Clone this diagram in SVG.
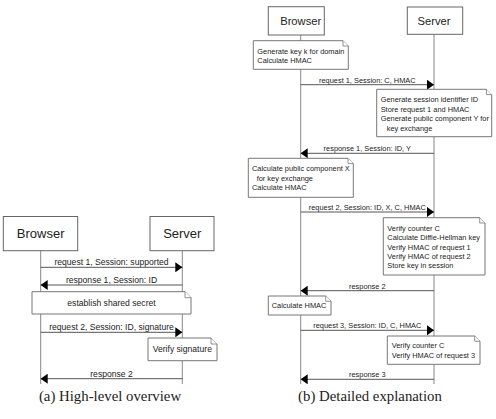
<svg xmlns="http://www.w3.org/2000/svg" width="496" height="419" viewBox="0 0 496 419">
<defs>
<style>
.box{fill:#fff;stroke:#666;stroke-width:1}
.note{fill:#fff;stroke:#777;stroke-width:1}
.fold{fill:#fff;stroke:#777;stroke-width:0.8}
.life{stroke:#888;stroke-width:1;fill:none}
.msg{stroke:#555;stroke-width:1;fill:none}
.t{font-family:"Liberation Sans",Arial,sans-serif;fill:#222}
.ml{font-size:8.6px;text-anchor:middle}
.mr{font-size:7.4px;text-anchor:middle}
.nl{font-size:8.6px}
.nr{font-size:7.4px}
.cap{font-family:"Liberation Serif","Times New Roman",serif;font-size:14.8px;fill:#222;text-anchor:middle}
</style>
<marker id="ah" viewBox="0 0 7 10" refX="7" refY="5" markerWidth="7" markerHeight="10" markerUnits="userSpaceOnUse" orient="auto">
<path d="M0,0 L7,5 L0,10 Z" fill="#000"/>
</marker>
</defs>
<rect width="496" height="419" fill="#fff"/>

<g id="connectors">
<!-- lifelines -->
<line class="life" x1="40.7" y1="250.7" x2="40.7" y2="384"/>
<line class="life" x1="182.3" y1="250.7" x2="182.3" y2="384"/>
<line class="life" x1="300.7" y1="35" x2="300.7" y2="384"/>
<line class="life" x1="434" y1="34.3" x2="434" y2="384"/>
<!-- left messages -->
<line class="msg" x1="40.7" y1="267.3" x2="182.3" y2="267.3" marker-end="url(#ah)"/>
<line class="msg" x1="182.3" y1="285" x2="40.7" y2="285" marker-end="url(#ah)"/>
<line class="msg" x1="40.7" y1="332.3" x2="182.3" y2="332.3" marker-end="url(#ah)"/>
<line class="msg" x1="182.3" y1="378.7" x2="40.7" y2="378.7" marker-end="url(#ah)"/>
<!-- right messages -->
<line class="msg" x1="300.7" y1="84.7" x2="434" y2="84.7" marker-end="url(#ah)"/>
<line class="msg" x1="434" y1="153.3" x2="300.7" y2="153.3" marker-end="url(#ah)"/>
<line class="msg" x1="300.7" y1="212" x2="434" y2="212" marker-end="url(#ah)"/>
<line class="msg" x1="434" y1="290.7" x2="300.7" y2="290.7" marker-end="url(#ah)"/>
<line class="msg" x1="300.7" y1="330.3" x2="434" y2="330.3" marker-end="url(#ah)"/>
<line class="msg" x1="434" y1="379.3" x2="300.7" y2="379.3" marker-end="url(#ah)"/>
<!-- labels -->
<text class="t ml" x="111.5" y="265.3">request 1, Session: supported</text>
<text class="t ml" x="111.5" y="283">response 1, Session: ID</text>
<text class="t ml" x="111.5" y="330.3">request 2, Session: ID, signature</text>
<text class="t ml" x="111.5" y="376.7">response 2</text>
<text class="t mr" x="367.3" y="82.7">request 1, Session: C, HMAC</text>
<text class="t mr" x="367.3" y="151.3">response 1, Session: ID, Y</text>
<text class="t mr" x="367.3" y="210">request 2, Session: ID, X, C, HMAC</text>
<text class="t mr" x="367.3" y="288.7">response 2</text>
<text class="t mr" x="367.3" y="328.3">request 3, Session: ID, C, HMAC</text>
<text class="t mr" x="367.3" y="377.3">response 3</text>
</g>

<g id="a-browser">
<rect class="box" x="3.3" y="216.5" width="74.4" height="34.2"/>
<text class="t" x="40.7" y="237.8" font-size="13" text-anchor="middle">Browser</text>
</g>
<g id="a-server">
<rect class="box" x="150" y="216.5" width="64" height="34.2"/>
<text class="t" x="182.3" y="237.8" font-size="13" text-anchor="middle">Server</text>
</g>
<g id="a-note-secret">
<path class="note" d="M32,291.7 H185 L191,297.7 V314 H32 Z"/>
<path class="fold" d="M185,291.7 V297.7 H191"/>
<text class="t nl" x="111.5" y="305.6" text-anchor="middle">establish shared secret</text>
</g>
<g id="a-note-verify">
<path class="note" d="M148,338 H211 L217,344 V360.7 H148 Z"/>
<path class="fold" d="M211,338 V344 H217"/>
<text class="t nl" x="152.7" y="352.3">Verify signature</text>
</g>
<text class="cap" x="110" y="401">(a) High-level overview</text>

<g id="b-browser">
<rect class="box" x="268.3" y="6.7" width="56" height="28.3"/>
<text class="t" x="300.7" y="24.8" font-size="11.2" text-anchor="middle">Browser</text>
</g>
<g id="b-server">
<rect class="box" x="407.3" y="7" width="55.4" height="27.3"/>
<text class="t" x="434" y="24.8" font-size="11.2" text-anchor="middle">Server</text>
</g>
<g id="b-note1">
<path class="note" d="M253.3,40.7 H343 L348.3,46 V69.3 H253.3 Z"/>
<path class="fold" d="M343,40.7 V46 H348.3"/>
<text class="t nr" x="257.3" y="53.6">Generate key k for domain</text>
<text class="t nr" x="257.3" y="63.3">Calculate HMAC</text>
</g>
<g id="b-note2">
<path class="note" d="M376.7,89.3 H486.4 L491.7,94.6 V136.7 H376.7 Z"/>
<path class="fold" d="M486.4,89.3 V94.6 H491.7"/>
<text class="t nr" x="380.7" y="102.3">Generate session identifier ID</text>
<text class="t nr" x="380.7" y="111.6">Store request 1 and HMAC</text>
<text class="t nr" x="380.7" y="121.1">Generate public component Y for</text>
<text class="t nr" x="386.7" y="130.8">key exchange</text>
</g>
<g id="b-note3">
<path class="note" d="M248.3,158.3 H348 L353.3,163.6 V197.3 H248.3 Z"/>
<path class="fold" d="M348,158.3 V163.6 H353.3"/>
<text class="t nr" x="252" y="170.6">Calculate public component X</text>
<text class="t nr" x="256.7" y="180.6">for key exchange</text>
<text class="t nr" x="252" y="189.9">Calculate HMAC</text>
</g>
<g id="b-note4">
<path class="note" d="M383.3,217.7 H479.7 L485,223 V275 H383.3 Z"/>
<path class="fold" d="M479.7,217.7 V223 H485"/>
<text class="t nr" x="387.3" y="230.6">Verify counter C</text>
<text class="t nr" x="387.3" y="240">Calculate Diffie-Hellman key</text>
<text class="t nr" x="387.3" y="249.6">Verify HMAC of request 1</text>
<text class="t nr" x="387.3" y="259.3">Verify HMAC of request 2</text>
<text class="t nr" x="387.3" y="268.4">Store key in session</text>
</g>
<g id="b-note5">
<path class="note" d="M268.3,296 H325.7 L331,301.3 V315 H268.3 Z"/>
<path class="fold" d="M325.7,296 V301.3 H331"/>
<text class="t nr" x="271.7" y="308.3">Calculate HMAC</text>
</g>
<g id="b-note6">
<path class="note" d="M387.3,336 H474.7 L480,341.3 V364.3 H387.3 Z"/>
<path class="fold" d="M474.7,336 V341.3 H480"/>
<text class="t nr" x="391.7" y="348.3">Verify counter C</text>
<text class="t nr" x="391.7" y="358.3">Verify HMAC of request 3</text>
</g>
<text class="cap" x="370" y="401">(b) Detailed explanation</text>
</svg>
